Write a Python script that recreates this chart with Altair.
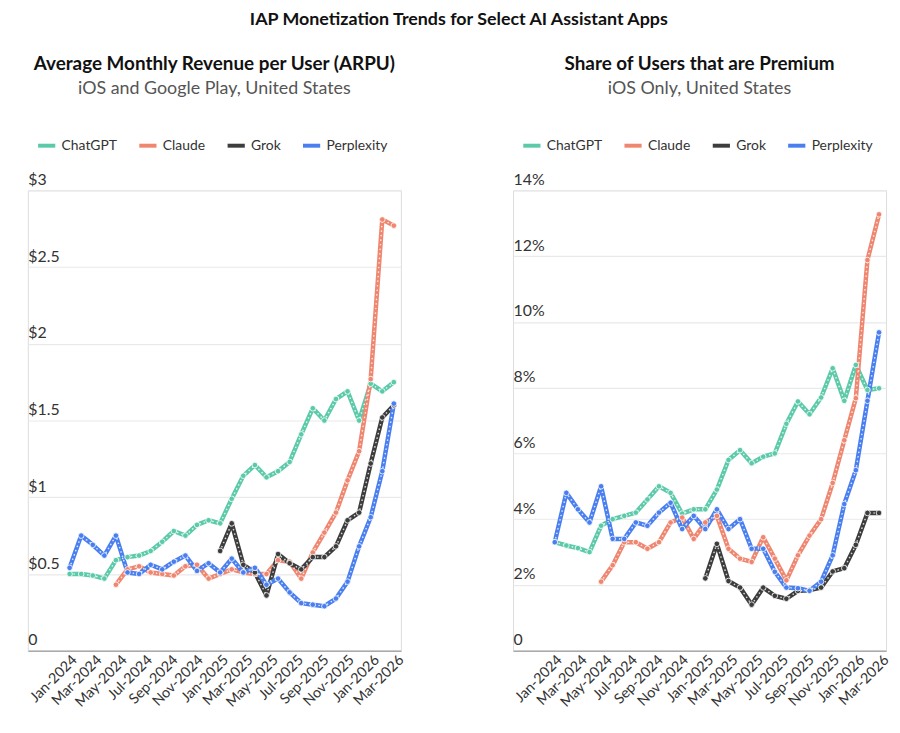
import altair as alt
import pandas as pd

dates = ["2024-01-01", "2024-01-29", "2024-02-26", "2024-03-25", "2024-04-22", "2024-05-20",
         "2024-06-17", "2024-07-15", "2024-08-12", "2024-09-09", "2024-10-07", "2024-11-04",
         "2024-12-02", "2024-12-30", "2025-01-27", "2025-02-24", "2025-03-24", "2025-04-21",
         "2025-05-19", "2025-06-16", "2025-07-14", "2025-08-11", "2025-09-08", "2025-10-06",
         "2025-11-03", "2025-12-01", "2025-12-29", "2026-01-26", "2026-02-23"]

apps = ["ChatGPT", "Claude", "Grok", "Perplexity"]
colors = ["#5ccaa9", "#ef8670", "#3d3d3d", "#4a7ff0"]

N = None
arpu_chatgpt = [0.50, 0.50, 0.49, 0.47, 0.59, 0.61, 0.62, 0.65, 0.71, 0.78, 0.75, 0.82, 0.85, 0.83,
                0.99, 1.14, 1.21, 1.13, 1.17, 1.23, 1.41, 1.58, 1.50, 1.64, 1.69, 1.50, 1.74, 1.69, 1.75]
arpu_claude = [N, N, N, N, 0.43, 0.53, 0.55, 0.51, 0.50, 0.49, 0.55, 0.56, 0.47, 0.50,
               0.53, 0.51, 0.50, 0.50, 0.59, 0.58, 0.47, 0.64, 0.77, 0.90, 1.11, 1.30, 1.77, 2.81, 2.77]
arpu_grok = [N, N, N, N, N, N, N, N, N, N, N, N, N, 0.65,
             0.83, 0.56, 0.51, 0.36, 0.63, 0.57, 0.53, 0.61, 0.61, 0.68, 0.85, 0.90, 1.22, 1.52, 1.60]
arpu_perplexity = [0.54, 0.75, 0.69, 0.62, 0.75, 0.51, 0.50, 0.56, 0.53, 0.58, 0.62, 0.52, 0.57, 0.51,
                   0.60, 0.51, 0.54, 0.43, 0.47, 0.38, 0.31, 0.30, 0.29, 0.34, 0.45, 0.68, 0.87, 1.17, 1.61]

prem_chatgpt = [3.3, 3.2, 3.12, 3.0, 3.8, 4.0, 4.1, 4.2, 4.6, 5.0, 4.8, 4.17, 4.3, 4.3,
                4.9, 5.8, 6.1, 5.7, 5.9, 6.0, 6.9, 7.58, 7.19, 7.7, 8.59, 7.6, 8.69, 7.93, 7.98]
prem_claude = [N, N, N, N, 2.1, 2.6, 3.3, 3.3, 3.1, 3.3, 3.9, 4.05, 3.4, 3.9,
               4.1, 3.1, 2.8, 2.7, 3.45, 2.8, 2.14, 2.9, 3.5, 4.0, 5.1, 6.4, 7.68, 11.88, 13.27]
prem_grok = [N, N, N, N, N, N, N, N, N, N, N, N, N, 2.2,
             3.25, 2.12, 1.92, 1.4, 1.92, 1.67, 1.58, 1.82, 1.84, 1.92, 2.41, 2.51, 3.22, 4.19, 4.19]
prem_perplexity = [3.3, 4.8, 4.3, 3.9, 5.0, 3.4, 3.4, 3.9, 3.8, 4.2, 4.5, 3.7, 4.1, 3.7,
                   4.3, 3.7, 4.0, 3.1, 3.1, 2.4, 1.92, 1.9, 1.82, 2.1, 2.9, 4.46, 5.49, 7.6, 9.68]

tick_dates = ["2024-01-01", "2024-03-01", "2024-05-01", "2024-07-01", "2024-09-01", "2024-11-01",
              "2025-01-01", "2025-03-01", "2025-05-01", "2025-07-01", "2025-09-01", "2025-11-01",
              "2026-01-01", "2026-03-01"]

FONT = "Lato"


def long_df(series):
    rows = []
    for app, vals in zip(apps, series):
        for d, v in zip(dates, vals):
            if v is not None:
                rows.append({"date": d, "app": app, "value": v})
    return pd.DataFrame(rows)


def panel(df, title, subtitle, ymax, ystep, label_expr):
    x = alt.X("date:T",
              scale=alt.Scale(domain=["2023-09-22", "2026-03-12"]),
              axis=alt.Axis(values=tick_dates, format="%b-%Y", labelAngle=-45, title=None,
                            grid=False, ticks=False, domain=True, domainColor="#aaaaaa",
                            domainWidth=1.5, labelFontSize=14.5, labelColor="#333333",
                            labelFont=FONT, labelPadding=2, labelOverlap=False))
    y = alt.Y("value:Q",
              scale=alt.Scale(domain=[0, ymax], nice=False, zero=True),
              axis=alt.Axis(values=[i * ystep for i in range(int(round(ymax / ystep)) + 1)],
                            title=None, domain=False, ticks=False, tickSize=0,
                            labelAlign="left", labelBaseline="alphabetic", labelPadding=0,
                            labelOffset=-6, labelExpr=label_expr, labelFontSize=16,
                            labelColor="#333333", labelFont=FONT, gridColor="#e9e9e9",
                            gridWidth=1.2, minExtent=0, maxExtent=0))
    color = alt.Color("app:N",
                      scale=alt.Scale(domain=apps, range=colors),
                      legend=alt.Legend(title=None, orient="none", direction="horizontal",
                                        legendX=8, legendY=-56, symbolType="stroke",
                                        symbolStrokeWidth=4, symbolSize=300, labelFontSize=14,
                                        labelColor="#333333", labelFont=FONT, columnPadding=14,
                                        symbolOffset=0))
    base = alt.Chart(df)
    line = base.mark_line(strokeWidth=4.5, strokeCap="round", strokeJoin="round").encode(
        x=x, y=y, color=color, detail="app:N")
    dots = base.mark_line(strokeWidth=1.6, stroke="white", strokeDash=[0.1, 4.5],
                          strokeCap="round", opacity=0.8).encode(x=x, y=y, detail="app:N")
    pts = base.mark_point(filled=True, size=32, opacity=1, stroke="white", strokeWidth=0.8).encode(
        x=x, y=y, color=alt.Color("app:N", scale=alt.Scale(domain=apps, range=colors), legend=None))
    return alt.layer(line, dots, pts).properties(
        width=376, height=464,
        title=alt.TitleParams(text=title, subtitle=subtitle, anchor="middle", fontSize=19,
                              font=FONT, fontWeight="bold", color="#111111", subtitleFont=FONT,
                              subtitleFontSize=18, subtitleColor="#555555", subtitlePadding=6,
                              offset=37))


left = panel(long_df([arpu_chatgpt, arpu_claude, arpu_grok, arpu_perplexity]),
             "Average Monthly Revenue per User (ARPU)", "iOS and Google Play, United States",
             3, 0.5, "datum.value == 0 ? '0' : '$' + datum.value")
right = panel(long_df([prem_chatgpt, prem_claude, prem_grok, prem_perplexity]),
              "Share of Users that are Premium", "iOS Only, United States",
              14, 2, "datum.value == 0 ? '0' : datum.value + '%'")

chart = alt.hconcat(left, right, spacing=105).resolve_scale(color="independent").resolve_legend(
    color="independent").properties(
    title=alt.TitleParams(text="IAP Monetization Trends for Select AI Assistant Apps",
                          anchor="middle", fontSize=18, font=FONT, fontWeight="bold",
                          color="#111111", offset=26),
    padding={"left": 18, "top": 0, "right": 0, "bottom": 0}
).configure_view(stroke=None).configure(background="white")

chart.save("out.html", embed_options={"renderer": "svg", "actions": False})
